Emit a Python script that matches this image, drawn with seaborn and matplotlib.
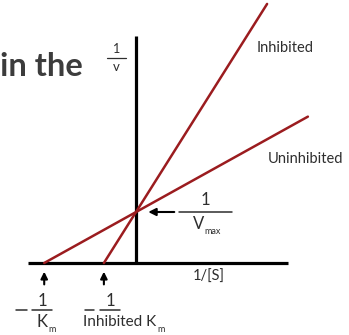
import matplotlib
matplotlib.use("Agg")
import matplotlib.pyplot as plt
import seaborn as sns
import pandas as pd

# Lineweaver-Burk plot: 1/v against 1/[S], with and without a competitive inhibitor
series = ["Uninhibited", "Inhibited"]
inv_s_uninhibited = [-1.80, 3.37]
inv_v_uninhibited = [0.0, 2.87]
inv_s_inhibited = [-0.63, 2.57]
inv_v_inhibited = [0.0, 5.08]
inv_vmax = 1.0

df = pd.DataFrame({
    "inv_s": inv_s_uninhibited + inv_s_inhibited,
    "inv_v": inv_v_uninhibited + inv_v_inhibited,
    "series": [series[0]] * 2 + [series[1]] * 2,
})

sns.set_style("white")
W, H = 349, 335
fig = plt.figure(figsize=(W / 100, H / 100), dpi=100)
ax = fig.add_axes([0, 0, 1, 1])
ax.set_xlim(-2.667, 4.176)
ax.set_ylim(-1.412, 5.157)
ax.axis("off")

RED = "#9b1c1f"
TXT = "#2e2e2e"
FONT = "Lato"

# axes of the plot
ax.plot([-2.12, 2.98], [0, 0], color="black", lw=2.3, solid_capstyle="butt", zorder=3)
ax.plot([0, 0], [0, 4.45], color="black", lw=2.3, solid_capstyle="butt", zorder=3)

sns.lineplot(data=df, x="inv_s", y="inv_v", hue="series", units="series",
             estimator=None, palette=[RED, RED], linewidth=1.8, legend=False,
             ax=ax, zorder=4, sort=False)


def fp(x, y):
    return x / W, 1 - y / H


def txt(x, y, s, size, ha="center", va="center", weight="normal", color=TXT, family=FONT):
    fig.text(*fp(x, y), s, fontsize=size, ha=ha, va=va, fontweight=weight,
             color=color, family=family)


def hline(x0, x1, y, lw=0.9):
    fig.add_artist(plt.Line2D([x0 / W, x1 / W], [1 - y / H, 1 - y / H],
                              color=TXT, lw=lw, transform=fig.transFigure))


# heading fragment
txt(0, 66, "in the", 23.5, ha="left", weight="bold", color="#3c3c3c")

# y-axis label 1/v
txt(116.5, 49, "1", 9)
hline(107, 126, 58)
txt(116.5, 67, "v", 9.5)

# series labels
txt(257, 48, "Inhibited", 10.5, ha="left")
txt(268, 159, "Uninhibited", 10.5, ha="left")

# x-axis label
txt(209, 277, "1/[S]", 10.5)

# 1/Vmax marker
ax.annotate("", xy=(0.24, inv_vmax), xytext=(0.75, inv_vmax),
            arrowprops=dict(arrowstyle="-|>", color="black", lw=1.5,
                            mutation_scale=11, shrinkA=0, shrinkB=0))
txt(205.5, 200, "1", 12)
hline(179, 232, 212, lw=1.1)
txt(199, 224, "V", 12)
txt(213, 231, "max", 6.5)

# x-intercept markers
for x0 in (inv_s_uninhibited[0], inv_s_inhibited[0]):
    ax.annotate("", xy=(x0, -0.17), xytext=(x0, -0.42),
                arrowprops=dict(arrowstyle="-|>", color="black", lw=1.5,
                                mutation_scale=10, shrinkA=0, shrinkB=0))

# -1/Km
hline(16, 27, 310, lw=1.1)
txt(42, 301, "1", 12)
hline(32, 52, 310, lw=1.1)
txt(42.5, 322, "K", 12)
txt(52, 330, "m", 6.5)

# -1/Inhibited Km
hline(85, 94, 310, lw=1.1)
txt(110, 301, "1", 12)
hline(100, 120, 310, lw=1.1)
txt(83, 322, "Inhibited K", 11, ha="left")
txt(161, 330, "m", 6.5)

fig.savefig("out.png", dpi=100)
